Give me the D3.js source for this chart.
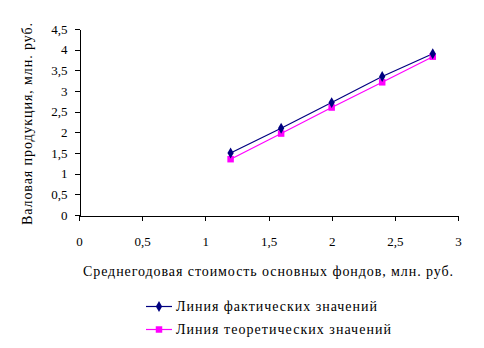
<!DOCTYPE html>
<html>
<head>
<meta charset="utf-8">
<script src="https://cdn.jsdelivr.net/npm/d3@7"></script>
<style>
  html, body { margin: 0; padding: 0; background: #fff; }
  svg { display: block; }
</style>
</head>
<body>
<svg id="chart" width="484" height="348"></svg>
<script>
// Среднегодовая стоимость основных фондов (x) и выпуск продукции (y)
const xValues = [1.2, 1.6, 2.0, 2.4, 2.8];
const actualValues = [1.5, 2.1, 2.72, 3.35, 3.9];
const theoreticalValues = [1.35, 1.97, 2.6, 3.21, 3.83];
const xTicks = [0, 0.5, 1, 1.5, 2, 2.5, 3];
const yTicks = [0, 0.5, 1, 1.5, 2, 2.5, 3, 3.5, 4, 4.5];
const seriesNames = ["Линия фактических значений", "Линия теоретических значений"];
const xTitle = "Среднегодовая стоимость основных фондов, млн. руб.";
const yTitle = "Валовая продукция, млн. руб.";

const FONT = '"Liberation Serif", "Times New Roman", serif';
const svg = d3.select("#chart");
const plotLeft = 79, plotRight = 458, plotTop = 29, plotBottom = 215;

const x = d3.scaleLinear().domain([0, 3]).range([plotLeft, plotRight]);
const y = d3.scaleLinear().domain([0, 4.5]).range([plotBottom, plotTop]);
const fmt = d => String(d).replace(".", ",");

// Axes
const xAxis = svg.append("g")
  .attr("transform", `translate(0,${plotBottom + 0.5})`)
  .call(d3.axisBottom(x).tickValues(xTicks).tickFormat(fmt).tickSizeInner(5).tickSizeOuter(0).tickPadding(16));
const yAxis = svg.append("g")
  .attr("transform", `translate(${plotLeft + 0.5},0)`)
  .call(d3.axisLeft(y).tickValues(yTicks).tickFormat(fmt).tickSizeInner(5).tickSizeOuter(0).tickPadding(7));

[xAxis, yAxis].forEach(g => {
  g.selectAll("path, line").attr("stroke", "#000").attr("shape-rendering", "crispEdges");
  g.selectAll("text").style("font-family", FONT).style("font-size", "13px").attr("fill", "#000");
});

// Label text in the serif face, stretched to the given width
function label(sel, width) {
  return sel.style("font-family", FONT).style("font-size", "14px").attr("fill", "#000")
    .attr("textLength", width).attr("lengthAdjust", "spacing");
}

// Axis titles
label(svg.append("text")
  .attr("x", 268)
  .attr("y", 276)
  .attr("text-anchor", "middle")
  .text(xTitle), 370);

label(svg.append("text")
  .attr("transform", `translate(32,124) rotate(-90)`)
  .attr("text-anchor", "middle")
  .text(yTitle), 202);

// Series
const series = [
  { name: seriesNames[0], values: actualValues, color: "#000080", marker: d3.symbolDiamond, size: 34, labelWidth: 201 },
  { name: seriesNames[1], values: theoreticalValues, color: "#FF00FF", marker: d3.symbolSquare, size: 42, labelWidth: 215 }
];

const line = d3.line().x((d, i) => x(xValues[i])).y(d => y(d));

// Theoretical drawn first so the actual series sits on top
series.slice().reverse().forEach(s => {
  svg.append("path")
    .datum(s.values)
    .attr("d", line)
    .attr("fill", "none")
    .attr("stroke", s.color)
    .attr("stroke-width", 1.2);
});
series.slice().reverse().forEach(s => {
  svg.selectAll(null)
    .data(s.values)
    .enter().append("path")
    .attr("d", d3.symbol().type(s.marker).size(s.size))
    .attr("transform", (d, i) => `translate(${x(xValues[i])},${y(d)})`)
    .attr("fill", s.color);
});

// Legend
const legend = svg.append("g");
series.forEach((s, i) => {
  const ly = 306 + i * 23;
  legend.append("line")
    .attr("x1", 146).attr("x2", 172)
    .attr("y1", ly + 0.5).attr("y2", ly + 0.5)
    .attr("stroke", s.color).attr("stroke-width", 1.2);
  legend.append("path")
    .attr("d", d3.symbol().type(s.marker).size(s.size))
    .attr("transform", `translate(159,${ly + 0.5})`)
    .attr("fill", s.color);
  label(legend.append("text")
    .attr("x", 176).attr("y", ly + 5)
    .text(s.name), s.labelWidth);
});
</script>
</body>
</html>
